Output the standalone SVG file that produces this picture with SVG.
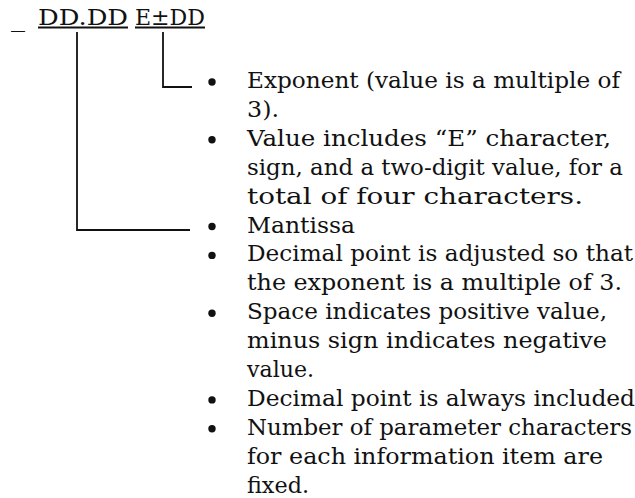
<svg xmlns="http://www.w3.org/2000/svg" width="635" height="498" viewBox="0 0 635 498">
<style>
text{font-family:"DejaVu Serif","Liberation Serif",serif;font-size:22px;fill:#111}
.ln{stroke:#111;stroke-width:1.8;fill:none}
.b{fill:#111}
</style>
<rect width="635" height="498" fill="#fff"/>
<g id="format">
<text x="11" y="27" textLength="14" lengthAdjust="spacingAndGlyphs">_</text>
<text x="38" y="25" textLength="90" lengthAdjust="spacingAndGlyphs">DD.DD</text>
<text x="135" y="25" textLength="70" lengthAdjust="spacingAndGlyphs">E±DD</text>
<line class="ln" x1="38" y1="27.5" x2="128" y2="27.5" stroke-width="1.3"/>
<line class="ln" x1="135" y1="27.5" x2="205" y2="27.5" stroke-width="1.3"/>
</g>
<g id="connectors">
<polyline class="ln" points="77,32 77,230 190,230"/>
<polyline class="ln" points="163,32 163,87 192,87"/>
</g>
<g id="exponent">
<circle class="b" cx="212" cy="82" r="3.7"/>
<text x="247" y="88" textLength="373" lengthAdjust="spacingAndGlyphs">Exponent (value is a multiple of</text>
<text x="247" y="116.9" textLength="32" lengthAdjust="spacingAndGlyphs">3).</text>
<circle class="b" cx="212" cy="139.8" r="3.7"/>
<text x="247" y="145.8" textLength="364" lengthAdjust="spacingAndGlyphs">Value includes “E” character,</text>
<text x="247" y="174.7" textLength="376" lengthAdjust="spacingAndGlyphs">sign, and a two-digit value, for a</text>
<text x="247" y="203.6" textLength="336" lengthAdjust="spacingAndGlyphs">total of four characters.</text>
</g>
<g id="mantissa">
<circle class="b" cx="212" cy="226.5" r="3.7"/>
<text x="247" y="232.5" textLength="108" lengthAdjust="spacingAndGlyphs">Mantissa</text>
<circle class="b" cx="212" cy="255.4" r="3.7"/>
<text x="247" y="261.4" textLength="386" lengthAdjust="spacingAndGlyphs">Decimal point is adjusted so that</text>
<text x="247" y="290.3" textLength="375" lengthAdjust="spacingAndGlyphs">the exponent is a multiple of 3.</text>
<circle class="b" cx="212" cy="313.2" r="3.7"/>
<text x="247" y="319.2" textLength="360" lengthAdjust="spacingAndGlyphs">Space indicates positive value,</text>
<text x="247" y="348.1" textLength="360" lengthAdjust="spacingAndGlyphs">minus sign indicates negative</text>
<text x="247" y="377" textLength="67" lengthAdjust="spacingAndGlyphs">value.</text>
<circle class="b" cx="212" cy="399.9" r="3.7"/>
<text x="247" y="405.9" textLength="388" lengthAdjust="spacingAndGlyphs">Decimal point is always included</text>
<circle class="b" cx="212" cy="428.8" r="3.7"/>
<text x="247" y="434.8" textLength="385" lengthAdjust="spacingAndGlyphs">Number of parameter characters</text>
<text x="247" y="463.7" textLength="356" lengthAdjust="spacingAndGlyphs">for each information item are</text>
<text x="247" y="492.6" textLength="62" lengthAdjust="spacingAndGlyphs">fixed.</text>
</g>
</svg>
